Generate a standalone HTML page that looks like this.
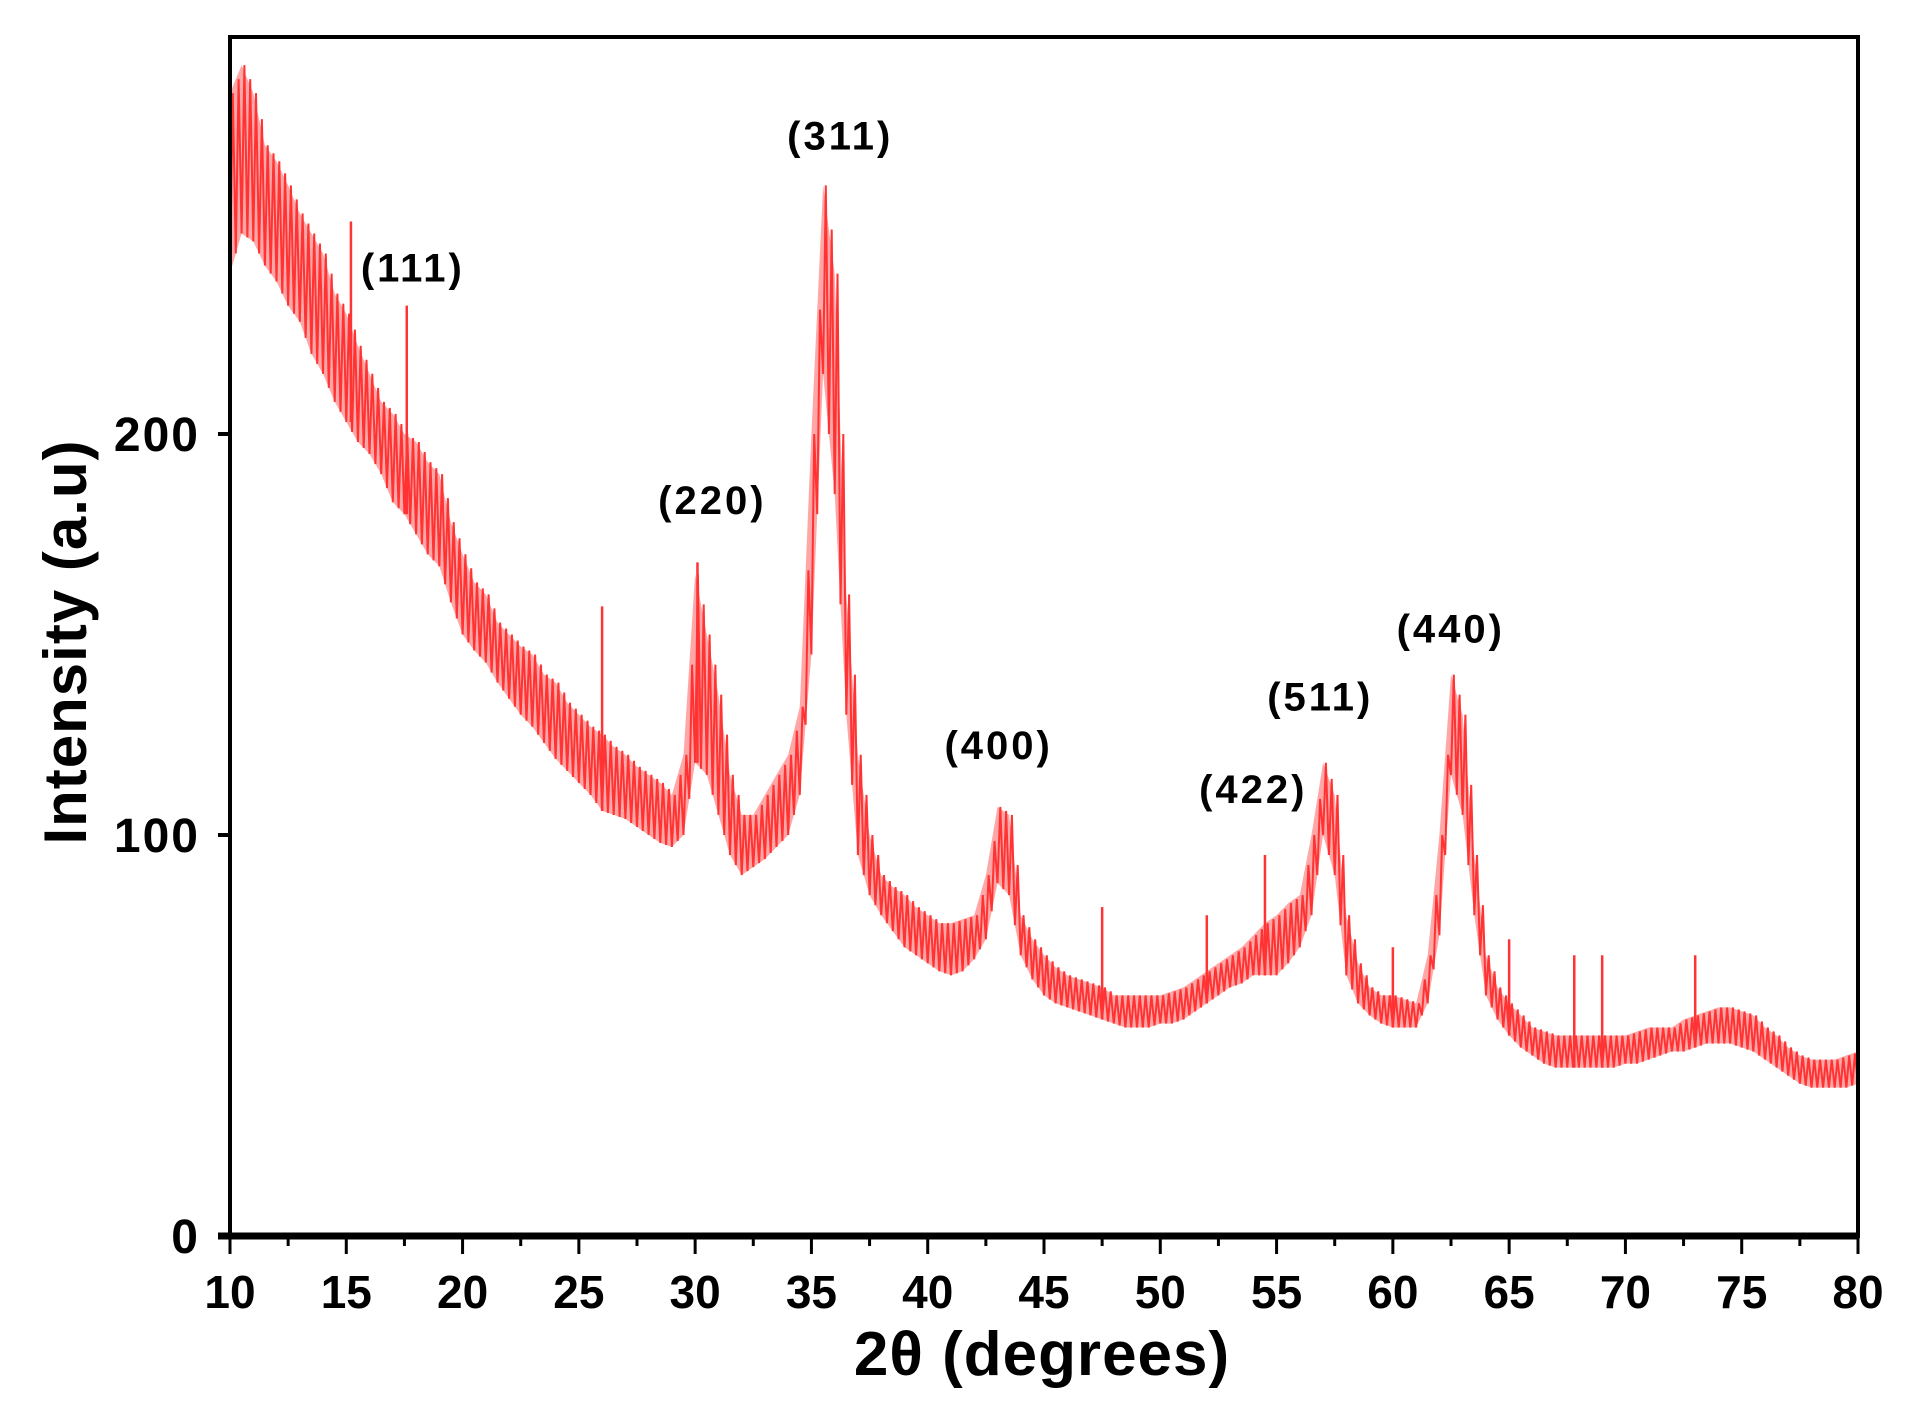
<!DOCTYPE html>
<html><head><meta charset="utf-8"><style>
html,body{margin:0;padding:0;background:#fff;}
svg{display:block;font-family:"Liberation Sans",Arial,sans-serif;}
</style></head><body>
<svg id="chart" width="1909" height="1415" viewBox="0 0 1909 1415" xmlns="http://www.w3.org/2000/svg">
<g id="series"></g>
<g id="axes"></g>
<g id="labels"></g>
<text x="1042" y="1375" text-anchor="middle" font-size="62" font-weight="bold" letter-spacing="1">2θ (degrees)</text>
<text transform="translate(86,642) rotate(-90)" text-anchor="middle" font-size="60" font-weight="bold" letter-spacing="1">Intensity (a.u)</text>
</svg>
<script>
const angles=[10,10.5,11,11.5,12,12.5,13,13.5,14,14.5,15,15.5,16,16.5,17,17.5,18,18.5,19,19.5,20,20.5,21,21.5,22,22.5,23,23.5,24,24.5,25,25.5,26,26.5,27,27.5,28,28.5,29,29.5,30,30.5,31,31.5,32,32.5,33,33.5,34,34.5,35,35.5,36,36.5,37,37.5,38,38.5,39,39.5,40,40.5,41,41.5,42,42.5,43,43.5,44,44.5,45,45.5,46,46.5,47,47.5,48,48.5,49,49.5,50,50.5,51,51.5,52,52.5,53,53.5,54,54.5,55,55.5,56,56.5,57,57.5,58,58.5,59,59.5,60,60.5,61,61.5,62,62.5,63,63.5,64,64.5,65,65.5,66,66.5,67,67.5,68,68.5,69,69.5,70,70.5,71,71.5,72,72.5,73,73.5,74,74.5,75,75.5,76,76.5,77,77.5,78,78.5,79,79.5,80];
const lowValues=[240,250,248,242,238,232,228,220,215,208,203,198,195,190,183,180,175,170,167,158,150,146,143,138,134,130,127,123,119,116,113,110,106,105,104,102,100,98,97,100,118,115,105,95,90,92,94,97,100,110,145,215,185,130,95,85,80,76,72,70,68,66,65,66,69,74,88,85,70,64,60,58,57,56,55,54,53,52,52,52,53,53,54,56,58,60,62,63,65,65,65,68,72,80,100,90,65,58,55,53,52,52,52,58,75,115,105,80,60,54,50,47,45,43,42,42,42,42,42,42,43,43,44,45,46,46,47,48,48,48,47,46,44,42,40,38,37,37,37,37,38];
const highValues=[285,292,285,272,268,262,255,250,245,235,230,222,215,208,205,200,198,193,190,178,170,163,160,153,150,147,145,140,138,133,130,127,125,122,120,117,115,113,110,120,165,150,135,115,105,105,110,115,120,132,200,262,240,160,120,100,90,87,85,82,80,78,78,79,80,90,107,105,80,74,70,67,65,64,63,62,60,60,60,60,60,61,62,64,66,68,70,72,75,78,80,83,85,100,118,110,80,68,62,60,60,59,58,70,100,140,130,95,70,62,58,55,52,51,50,50,50,50,50,50,50,51,52,52,52,54,55,56,57,57,56,55,52,50,47,45,44,44,44,45,46];
const spikeAngles=[15.2,17.6,26,30.1,47.5,52,54.5,60,65,67.8,69,73,80];
const spikeValues=[253,232,157,168,82,80,95,72,74,70,70,70,57];
const xTicks=[10,15,20,25,30,35,40,45,50,55,60,65,70,75,80];
const yTicks=[0,100,200];
const peakNames=["(111)","(220)","(311)","(400)","(422)","(511)","(440)"];
const peakAngles=[17.86,30.74,36.24,43.05,54.0,56.88,62.49];
const peakValues=[238,180,271,119,108,131,148];

const L=230,R=1858,T=37,B=1236,X0=10,X1=80,Y0=0,Y1=299;
const sx=v=>L+(v-X0)/(X1-X0)*(R-L);
const sy=v=>B-(v-Y0)/(Y1-Y0)*(B-T);
const NS="http://www.w3.org/2000/svg";
function mk(tag,parent){const e=document.createElementNS(NS,tag);parent.appendChild(e);return e;}
const series=document.getElementById('series');
let d='';
for(let i=0;i<angles.length;i++)d+=(i?'L':'M')+sx(angles[i]).toFixed(1)+','+sy(highValues[i]).toFixed(1);
for(let i=angles.length-1;i>=0;i--)d+='L'+sx(angles[i]).toFixed(1)+','+sy(lowValues[i]).toFixed(1);
const band=mk('path',series);


band.setAttribute('d',d+'Z');band.setAttribute('fill','#ff6a6a');band.setAttribute('opacity','0.6');
let z='';
for(let i=0;i<angles.length-1;i++){
  const a=angles[i];
  const steps=[[a,lowValues[i]],[a+0.12,highValues[i]],[a+0.25,(lowValues[i]+lowValues[i+1])/2],[a+0.37,(highValues[i]+highValues[i+1])/2]];
  steps.forEach((p,k)=>{z+=(i===0&&k===0?'M':'L')+sx(p[0]).toFixed(1)+','+sy(p[1]).toFixed(1);});
}
z+='L'+sx(angles[angles.length-1])+','+sy(lowValues[angles.length-1]);
const zig=mk('path',series);


zig.setAttribute('d',z);zig.setAttribute('fill','none');zig.setAttribute('stroke','#ff3333');zig.setAttribute('stroke-width','2');
spikeAngles.forEach((a,i)=>{
  const ln=mk('line',series);
  
  
  let base=60;for(let j=0;j<angles.length;j++){if(angles[j]<=a)base=lowValues[j];}
  ln.setAttribute('x1',sx(a));ln.setAttribute('x2',sx(a));ln.setAttribute('y1',sy(base));ln.setAttribute('y2',sy(spikeValues[i]));
  ln.setAttribute('stroke','#ff3333');ln.setAttribute('stroke-width','2.5');
});
const axes=document.getElementById('axes');
const frame=mk('rect',axes);


frame.setAttribute('x',L);frame.setAttribute('y',T);frame.setAttribute('width',R-L);frame.setAttribute('height',B-T);
frame.setAttribute('fill','none');frame.setAttribute('stroke','#000');frame.setAttribute('stroke-width','4');
const xb=mk('line',axes);


xb.setAttribute('x1',L-12);xb.setAttribute('x2',R);xb.setAttribute('y1',B);xb.setAttribute('y2',B);xb.setAttribute('stroke','#000');xb.setAttribute('stroke-width','7');
xTicks.forEach((v,i)=>{
  const t=mk('line',axes);
  
  
  t.setAttribute('x1',sx(v));t.setAttribute('x2',sx(v));t.setAttribute('y1',B);t.setAttribute('y2',B+18);t.setAttribute('stroke','#000');t.setAttribute('stroke-width','3');
  if(i<xTicks.length-1){
    const m=mk('line',axes);
    
    
    const mv=v+2.5;
    m.setAttribute('x1',sx(mv));m.setAttribute('x2',sx(mv));m.setAttribute('y1',B);m.setAttribute('y2',B+10);m.setAttribute('stroke','#000');m.setAttribute('stroke-width','3');
  }
  const lb=mk('text',axes);
  
  
  lb.setAttribute('x',sx(v));lb.setAttribute('y',B+72);lb.setAttribute('text-anchor','middle');lb.setAttribute('font-size','46');lb.setAttribute('font-weight','bold');
  lb.textContent=v;
});
yTicks.forEach(v=>{
  const t=mk('line',axes);
  
  
  t.setAttribute('x1',L-12);t.setAttribute('x2',L);t.setAttribute('y1',sy(v));t.setAttribute('y2',sy(v));t.setAttribute('stroke','#000');t.setAttribute('stroke-width','4');
  const lb=mk('text',axes);
  
  
  lb.setAttribute('x',L-30);lb.setAttribute('y',sy(v)+17);lb.setAttribute('text-anchor','end');lb.setAttribute('font-size','48');lb.setAttribute('font-weight','bold');lb.setAttribute('letter-spacing','2');
  lb.textContent=v;
});
const labels=document.getElementById('labels');
peakNames.forEach((n,i)=>{
  const lb=mk('text',labels);
  
  
  lb.setAttribute('x',sx(peakAngles[i]));lb.setAttribute('y',sy(peakValues[i]));lb.setAttribute('text-anchor','middle');lb.setAttribute('font-size','40');lb.setAttribute('font-weight','bold');lb.setAttribute('letter-spacing','3');
  lb.textContent=n;
});
</script>
</body></html>
